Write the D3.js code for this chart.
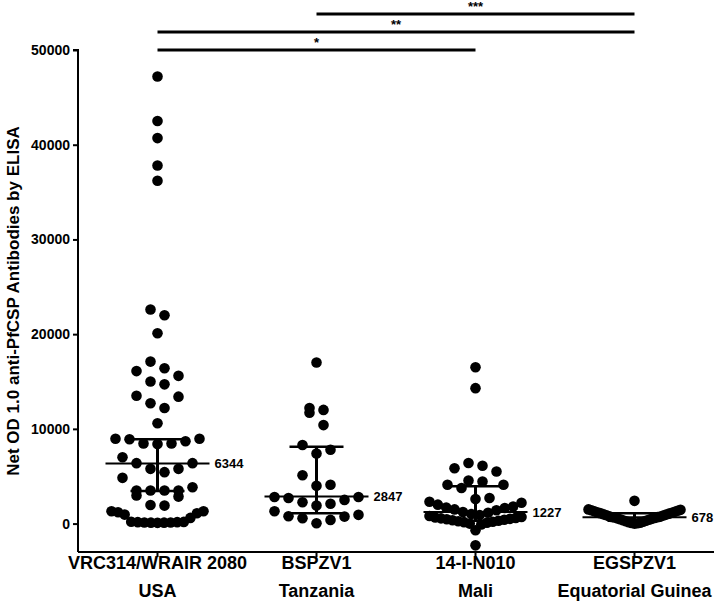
<!DOCTYPE html>
<html>
<head>
<meta charset="utf-8">
<script src="https://cdn.jsdelivr.net/npm/d3@7"></script>
<style>
  html, body { margin: 0; padding: 0; background: #fff; }
  svg { display: block; font-family: "Liberation Sans", Arial, sans-serif; }
</style>
</head>
<body>
<svg id="chart" width="717" height="608"></svg>
<script>
// ---------------- data ----------------
const categories = ["VRC314/WRAIR 2080", "BSPZV1", "14-I-N010", "EGSPZV1"];
const countries = ["USA", "Tanzania", "Mali", "Equatorial Guinea"];

const usaValues = [47200, 42500, 40700, 37800, 36200,
  22600, 22000, 20100, 17100, 16400, 16100, 15600, 15000, 14700, 13500, 13400, 12700, 12200, 10600,
  8950, 8950, 8900, 8700, 8450, 8450, 8400,
  7000,
  6380, 6380, 5780, 5780, 5430, 4830,
  3840, 3490, 3490, 3490, 3490, 2960, 2850,
  1970, 1900, 1300, 1300,
  1190, 1090, 950, 600, 200, 150, 120, 100, 80, 100, 120, 150, 180];
const tanzaniaValues = [17000, 12200, 12000, 11700, 10400, 8300, 7800, 7400, 5100, 4100, 4000,
  2800, 2800, 2700, 2500, 2250, 2100, 1900, 1300, 920, 770, 740, 560, 390, 30];
const maliValues = [16500, 14300, 6400, 6100, 5850, 5500, 4550, 4450, 4100, 4100, 3750,
  2700, 2600, 2300, 2200, 2000, 1800, 1700, 1650, 1500, 1400, 1227,
  1150, 1000, 900, 800, 700, 650, 600, 550, 500, 450, 400, 350, 300, 250, 200, 150, 100, 0, -100, -700, -2300];
const egValues = [2400, 1500, 1450, 1400, 1350, 1300, 1250, 1200, 1150, 1100, 1050, 1000, 950, 900, 850, 800,
  750, 700, 678, 650, 600, 550, 500, 450, 400, 350, 300, 250, 200, 150, 100, 60, 30, 0];

const medians = [6344, 2847, 1227, 678];
const q1 = [3450, 1100, 300, 300];
const q3 = [8900, 8100, 3950, 1100];
const medianLabels = ["6344", "2847", "1227", "678"];

const yTicks = [0, 10000, 20000, 30000, 40000, 50000];
const comparisons = [
  { from: 0, to: 2, label: "*" },
  { from: 0, to: 3, label: "**" },
  { from: 1, to: 3, label: "***" }
];

const groups = [usaValues, tanzaniaValues, maliValues, egValues];

// ---------------- layout ----------------
const svg = d3.select("#chart");
const mLeft = 78, mRight = 714, mTop = 50, mBottom = 552;

const x = d3.scaleBand().domain(categories).range([mLeft, mRight]);
const y = d3.scaleLinear().domain([-3000, 50000]).range([mBottom, mTop]);
const cx = c => x(c) + x.bandwidth() / 2;

const R = 5.3, SP = 14, W = 46, ROW = 15;

function layoutGroup(vals, center) {
  const sorted = vals.slice().sort((a, b) => a - b);
  const pts = [];
  let i = 0;
  while (i < sorted.length) {
    const y0 = y(sorted[i]);
    const row = [];
    while (i < sorted.length && y0 - y(sorted[i]) < ROW) { row.push(sorted[i]); i++; }
    const n = row.length;
    const s = n > 1 ? Math.min(SP, 2 * W / (n - 1)) : 0;
    row.forEach((v, k) => {
      let off;
      if (n % 2 === 1) {
        const m = Math.ceil(k / 2);
        off = k === 0 ? 0 : (k % 2 ? m : -m) * s;
      } else {
        const m = Math.floor(k / 2);
        off = (k % 2 ? -1 : 1) * (m + 0.5) * s;
      }
      pts.push({ v, x: center + off, y: y(v) });
    });
  }
  return pts;
}

// axes
const yAxis = d3.axisLeft(y).tickValues(yTicks).tickSize(5).tickPadding(3).tickFormat(d3.format("d"));
const gy = svg.append("g").attr("transform", `translate(${mLeft},0)`).call(yAxis);
gy.select(".domain").attr("d", `M-5,${mTop}H0V${mBottom}`).attr("stroke-width", 2);
gy.selectAll(".tick line").attr("stroke-width", 2);
gy.selectAll(".tick text").attr("font-size", 14).attr("font-weight", "bold").attr("fill", "#000")
  .attr("font-family", "Liberation Sans, Arial, sans-serif");

const xAxis = d3.axisBottom(x).tickSize(5).tickFormat("");
const gx = svg.append("g").attr("transform", `translate(0,${mBottom})`).call(xAxis);
gx.select(".domain").attr("d", `M${mLeft},0H${mRight}`).attr("stroke-width", 2);
gx.selectAll(".tick line").attr("stroke-width", 2);

// category labels
categories.forEach((c, i) => {
  svg.append("text").attr("x", cx(c)).attr("y", 569).attr("text-anchor", "middle")
    .attr("font-size", 18).attr("font-weight", "bold").text(c);
  svg.append("text").attr("x", cx(c)).attr("y", 597).attr("text-anchor", "middle")
    .attr("font-size", 18).attr("font-weight", "bold").text(countries[i]);
});

// y title
svg.append("text")
  .attr("transform", `translate(19,${(mTop + mBottom) / 2}) rotate(-90)`)
  .attr("text-anchor", "middle").attr("font-size", 17).attr("font-weight", "bold")
  .text("Net OD 1.0 anti-PfCSP Antibodies by ELISA");

// dots
groups.forEach((vals, i) => {
  const pts = layoutGroup(vals, cx(categories[i]));
  svg.append("g").selectAll("circle").data(pts).join("circle")
    .attr("cx", d => d.x).attr("cy", d => d.y).attr("r", R).attr("fill", "#000");
});

// median & IQR
categories.forEach((c, i) => {
  const g = svg.append("g").attr("stroke", "#000");
  const xc = cx(c);
  g.append("line").attr("x1", xc).attr("x2", xc).attr("y1", y(q1[i])).attr("y2", y(q3[i])).attr("stroke-width", 3);
  [q1[i], q3[i]].forEach(q => {
    g.append("line").attr("x1", xc - 27).attr("x2", xc + 27).attr("y1", y(q)).attr("y2", y(q)).attr("stroke-width", 2.5);
  });
  g.append("line").attr("x1", xc - 52).attr("x2", xc + 52).attr("y1", y(medians[i])).attr("y2", y(medians[i])).attr("stroke-width", 2);
  svg.append("text").attr("x", xc + 57).attr("y", y(medians[i])).attr("dy", "0.35em")
    .attr("font-size", 13).attr("font-weight", "bold").text(medianLabels[i]);
});

// significance bars
comparisons.forEach((cmp, k) => {
  const yy = mTop - k * 18;
  const x1 = cx(categories[cmp.from]), x2 = cx(categories[cmp.to]);
  svg.append("line").attr("x1", x1).attr("x2", x2).attr("y1", yy).attr("y2", yy)
    .attr("stroke", "#000").attr("stroke-width", 3);
  svg.append("text").attr("x", (x1 + x2) / 2).attr("y", yy - 3).attr("text-anchor", "middle")
    .attr("font-size", 13).attr("font-weight", "bold").text(cmp.label);
});
</script>
</body>
</html>
